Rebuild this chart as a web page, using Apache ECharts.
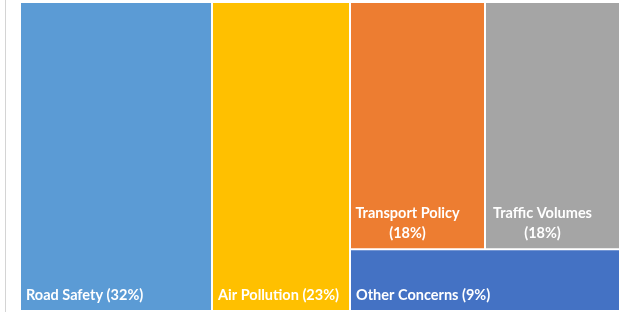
<!DOCTYPE html>
<html>
<head>
<meta charset="utf-8">
<script src="https://cdn.jsdelivr.net/npm/echarts@6/dist/echarts.min.js"></script>
<style>
html,body{margin:0;padding:0;background:#fff;}
#chart{width:621px;height:312px;}
</style>
</head>
<body>
<div id="chart"></div>
<script>
var names = ['Road Safety', 'Air Pollution', 'Transport Policy', 'Traffic Volumes', 'Other Concerns'];
var shares = [32, 23, 18, 18, 9];
var colors = ['#5b9bd5', '#ffc000', '#ed7d31', '#a5a5a5', '#4472c4'];
// the last three sit together in one block on the right
var groupIdx = [2, 3, 4];
// labels split on two lines, centred
var twoLine = [2, 3];

var myChart = echarts.init(document.getElementById('chart'));

function leaf(i){
	var split = twoLine.indexOf(i) >= 0;
	return {
		name: names[i],
		value: shares[i],
		itemStyle: {color: colors[i]},
		label: {
			position: split ? 'insideBottom' : 'insideBottomLeft',
			align: split ? 'center' : 'left',
			offset: split ? [-10, 0] : [0, 0],
			formatter: names[i] + (split ? '\n' : ' ') + '(' + shares[i] + '%)'
		}
	};
}

var data = [];
var group = {name: 'group', children: [], label: {show: false}};
for (var i = 0; i < names.length; i++) {
	if (groupIdx.indexOf(i) >= 0) {
		group.children.push(leaf(i));
	} else {
		data.push(leaf(i));
	}
}
group.value = 0;
for (var j = 0; j < group.children.length; j++) {
	group.value += group.children[j].value;
}
data.push(group);

var option = {
	animation: false,
	graphic: [{
		type: 'rect',
		shape: {x: 5, y: 0, width: 1, height: 312},
		style: {fill: '#d4d4d4'}
	}],
	series: [{
		type: 'treemap',
		left: 21,
		top: 3,
		width: 598,
		height: 307,
		sort: false,
		squareRatio: 1,//keeps the first two blocks as full-height columns
		roam: false,
		nodeClick: false,
		breadcrumb: {show: false},
		label: {
			show: true,
			color: '#fff',
			fontFamily: 'Lato',
			fontWeight: 'bold',
			fontSize: 14.5,
			lineHeight: 20,
			padding: 0,
			distance: 5
		},
		upperLabel: {show: false},
		levels: [
			{itemStyle: {borderWidth: 0, gapWidth: 2, borderColor: '#fff'}},
			{itemStyle: {borderWidth: 0, gapWidth: 2, borderColor: '#fff'}},
			{itemStyle: {borderWidth: 0}}
		],
		data: data
	}]
};

myChart.setOption(option, true);
</script>
</body>
</html>
